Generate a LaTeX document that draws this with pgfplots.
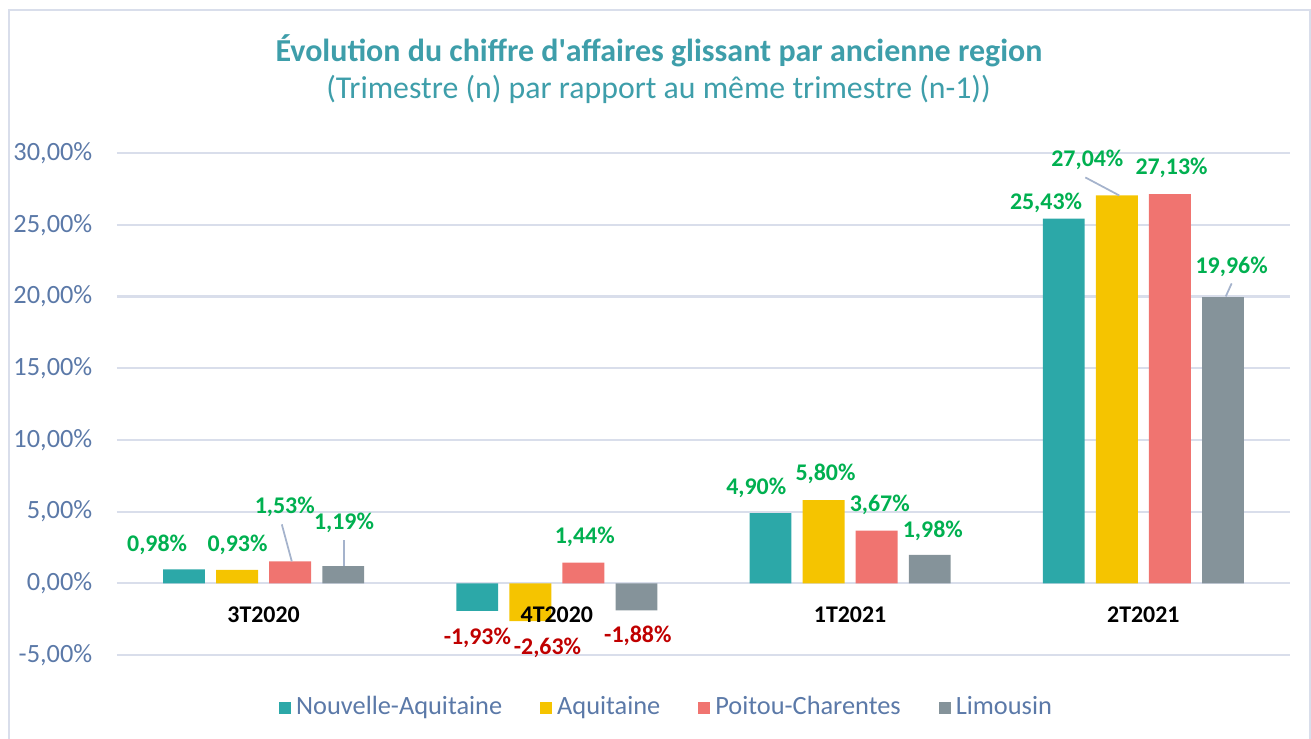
\documentclass[border=0pt]{standalone}
\usepackage{fontspec}
\setmainfont{Carlito}
\usepackage{pgfplots}
\pgfplotsset{compat=1.18}
\definecolor{cA}{RGB}{44,168,168}
\definecolor{cB}{RGB}{245,196,0}
\definecolor{cC}{RGB}{240,116,112}
\definecolor{cD}{RGB}{133,147,154}
\definecolor{titc}{RGB}{62,158,170}
\definecolor{tickc}{RGB}{91,121,168}
\definecolor{gridc}{RGB}{217,222,235}
\definecolor{posc}{RGB}{0,176,80}
\definecolor{negc}{RGB}{192,0,0}
\definecolor{leadc}{RGB}{165,179,204}
\begin{document}
\begin{tikzpicture}
\useasboundingbox (0,0) rectangle (131.1mm,-73.8mm);
\draw[gridc, line width=0.2mm] (0.85mm,-75mm) -- (0.85mm,-0.95mm) -- (130.95mm,-0.95mm) -- (130.95mm,-75mm);
\node[anchor=base, text=titc, font=\fontsize{9.1pt}{10pt}\selectfont\bfseries] at (65.9mm,-6.1mm) {Évolution du chiffre d\textquotesingle affaires glissant par ancienne region};
\node[anchor=base, text=titc, font=\fontsize{9.05pt}{10pt}\selectfont] at (65.85mm,-9.8mm) {(Trimestre (n) par rapport au même trimestre (n-1))};
\begin{axis}[
  at={(11.7mm,-65.5mm)}, anchor=south west,
  scale only axis, width=117.3mm, height=50.2mm,
  xmin=-0.5, xmax=3.5, ymin=-5, ymax=30,
  clip=false,
  axis line style={draw=none},
  major tick length=0pt,
  xtick=\empty,
  ytick={-5,0,5,10,15,20,25,30},
  yticklabels={{-5,00\%},{0,00\%},{5,00\%},{10,00\%},{15,00\%},{20,00\%},{25,00\%},{30,00\%}},
  yticklabel style={anchor=east, inner sep=0pt, xshift=-2.4mm, text=tickc, font=\fontsize{7.5pt}{8pt}\selectfont},
  ymajorgrids,
  grid style={color=gridc, line width=0.6pt},
  legend columns=4,
  legend style={at={(0.4698,-0.1056)}, anchor=center, draw=none, fill=none,
    font=\fontsize{7.5pt}{8pt}\selectfont, text=tickc,
    nodes={inner sep=0.5mm},
    /tikz/every even column/.append style={column sep=3.3mm}},
  legend image code/.code={\fill[#1] (0mm,-0.6mm) rectangle (1.2mm,0.6mm);},
]
\addplot[ybar, bar width=0.143, bar shift=-0.2715, fill=cA, draw=none] coordinates {(0,0.98) (1,-1.93) (2,4.90) (3,25.43)};
\addlegendentry{Nouvelle-Aquitaine}
\addplot[ybar, bar width=0.143, bar shift=-0.0905, fill=cB, draw=none] coordinates {(0,0.93) (1,-2.63) (2,5.80) (3,27.04)};
\addlegendentry{Aquitaine}
\addplot[ybar, bar width=0.143, bar shift=0.0905, fill=cC, draw=none] coordinates {(0,1.53) (1,1.44) (2,3.67) (3,27.13)};
\addlegendentry{Poitou-Charentes}
\addplot[ybar, bar width=0.143, bar shift=0.2715, fill=cD, draw=none] coordinates {(0,1.19) (1,-1.88) (2,1.98) (3,19.96)};
\addlegendentry{Limousin}
% leader lines
\addplot[forget plot, leadc, line width=0.5pt] coordinates {(0.062,4.11) (0.096,1.53)};
\addplot[forget plot, leadc, line width=0.5pt] coordinates {(0.274,3.0) (0.274,1.19)};
\addplot[forget plot, leadc, line width=0.5pt] coordinates {(2.802,28.30) (2.918,27.04)};
\addplot[forget plot, leadc, line width=0.5pt] coordinates {(3.301,20.91) (3.281,20.0)};
% category labels
\addplot[forget plot, draw=none, mark=none, nodes near coords, point meta=explicit symbolic,
  nodes near coords style={anchor=center, inner sep=0pt, text=black, font=\fontsize{6.8pt}{8pt}\selectfont\bfseries}]
  table[meta=lab, row sep=\\] {x y lab\\ 0 -2.16 3T2020\\ 1 -2.16 4T2020\\ 2 -2.16 1T2021\\ 3 -2.16 2T2021\\};
% positive labels
\addplot[forget plot, draw=none, mark=none, nodes near coords, point meta=explicit symbolic,
  nodes near coords style={anchor=center, inner sep=0pt, text=posc, font=\fontsize{6.8pt}{8pt}\selectfont\bfseries}]
  table[meta=lab, row sep=\\] {x y lab\\
  -0.363 2.65 0,98\%\\
  -0.089 2.65 0,93\%\\
  0.072 5.30 1,53\%\\
  0.274 4.18 1,19\%\\
  1.095 3.21 1,44\%\\
  1.680 6.62 4,90\%\\
  1.916 7.60 5,80\%\\
  2.101 5.44 3,67\%\\
  2.282 3.69 1,98\%\\
  2.668 26.49 25,43\%\\
  2.809 29.55 27,04\%\\
  3.096 28.93 27,13\%\\
  3.301 22.09 19,96\%\\};
% negative labels
\addplot[forget plot, draw=none, mark=none, nodes near coords, point meta=explicit symbolic,
  nodes near coords style={anchor=center, inner sep=0pt, text=negc, font=\fontsize{6.8pt}{8pt}\selectfont\bfseries}]
  table[meta=lab, row sep=\\] {x y lab\\
  0.729 -3.83 -1,93\%\\
  0.968 -4.53 -2,63\%\\
  1.276 -3.69 -1,88\%\\};
\end{axis}
\end{tikzpicture}
\end{document}
